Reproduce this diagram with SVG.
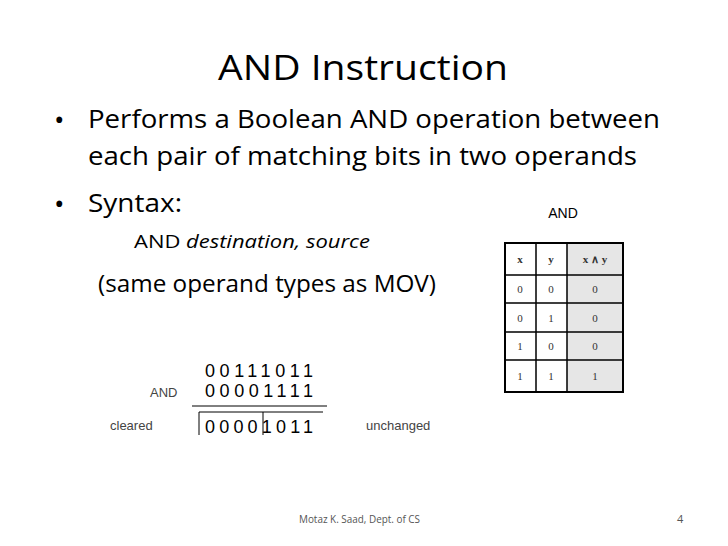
<svg xmlns="http://www.w3.org/2000/svg" width="728" height="546" viewBox="0 0 728 546">
<style>
.c{font-family:"Open Sans","Noto Sans",sans-serif;fill:#000}
.a{font-family:"Liberation Sans",Arial,sans-serif;fill:#000}
.t{font-family:"Liberation Serif",serif;fill:#333;font-size:11px;text-anchor:middle}
.ln{stroke:#000;fill:none}
</style>
<rect width="728" height="546" fill="#fff"/>
<g id="title"><text class="c" x="218" y="80" font-size="35" textLength="290" lengthAdjust="spacingAndGlyphs">AND Instruction</text></g>
<g id="bullets" class="c">
<text x="54" y="130" font-size="28">•</text>
<text x="88" y="128" font-size="25" textLength="572" lengthAdjust="spacingAndGlyphs">Performs a Boolean AND operation between</text>
<text x="88" y="165" font-size="25" textLength="549" lengthAdjust="spacingAndGlyphs">each pair of matching bits in two operands</text>
<text x="54" y="214" font-size="28">•</text>
<text x="88" y="212" font-size="25" textLength="94" lengthAdjust="spacingAndGlyphs">Syntax:</text>
<text x="134" y="248" font-size="18" textLength="236" lengthAdjust="spacingAndGlyphs">AND <tspan font-style="italic">destination, source</tspan></text>
<text x="98" y="292" font-size="23" textLength="338" lengthAdjust="spacingAndGlyphs">(same operand types as MOV)</text>
</g>
<g id="bits" class="a">
<text x="205" y="377" font-size="18" textLength="108" lengthAdjust="spacing">00111011</text>
<text x="150" y="397" font-size="13" fill="#444">AND</text>
<text x="205" y="397" font-size="18" textLength="108" lengthAdjust="spacing">00001111</text>
<line class="ln" x1="192" y1="406" x2="327" y2="406"/>
<path class="ln" d="M199 435V412H323"/>
<line class="ln" x1="263" y1="412" x2="263" y2="435"/>
<text x="205" y="433" font-size="18" textLength="108" lengthAdjust="spacing">00001011</text>
<text x="110" y="430" font-size="13" fill="#444">cleared</text>
<text x="366" y="430" font-size="13" fill="#444">unchanged</text>
</g>
<g id="table">
<text class="a" x="563" y="218" font-size="14" text-anchor="middle">AND</text>
<rect x="567" y="243" width="56" height="149" fill="#e6e6e6"/>
<rect x="505" y="243" width="118" height="149" class="ln" stroke-width="2"/>
<path class="ln" stroke-width="1.5" d="M536 243V392M567 243V392M505 275H623M505 303H623M505 332H623M505 360H623"/>
<g class="t"><text x="520" y="263" font-weight="bold">x</text><text x="551" y="263" font-weight="bold">y</text><text x="595" y="263" font-weight="bold">x ∧ y</text>
<text x="520" y="293">0</text><text x="551" y="293">0</text><text x="595" y="293">0</text>
<text x="520" y="322">0</text><text x="551" y="322">1</text><text x="595" y="322">0</text>
<text x="520" y="350">1</text><text x="551" y="350">0</text><text x="595" y="350">0</text>
<text x="520" y="380">1</text><text x="551" y="380">1</text><text x="595" y="380">1</text></g>
</g>
<g id="footer" class="c">
<text x="299" y="523" font-size="11" textLength="121" lengthAdjust="spacingAndGlyphs" fill="#555">Motaz K. Saad, Dept. of CS</text>
<text x="677" y="523" font-size="11" fill="#555">4</text>
</g>
</svg>
